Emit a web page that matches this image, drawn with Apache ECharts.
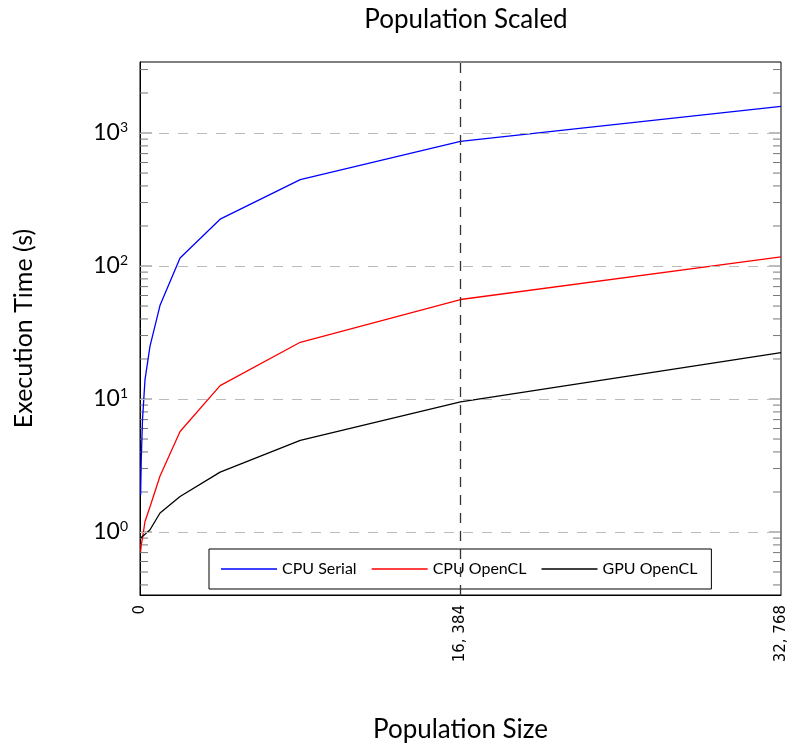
<!DOCTYPE html>
<html>
<head>
<meta charset="utf-8">
<script src="https://cdn.jsdelivr.net/npm/echarts@6/dist/echarts.min.js"></script>
<style>
html,body{margin:0;padding:0;background:#fff;}
#chart{width:791px;height:749px;}
</style>
</head>
<body>
<div id="chart"></div>
<script>
// Data
const populations = [32, 64, 128, 256, 512, 1024, 2048, 4096, 8192, 16384, 32768];
const cpuSerial   = [1.9, 3.5, 7, 14, 25, 50.6, 115, 225, 446, 865, 1585];
const cpuOpenCL   = [0.71, 0.8, 0.9, 1.2, 1.55, 2.64, 5.7, 12.6, 26.7, 56, 117];
const gpuOpenCL   = [0.9, 0.9, 0.92, 0.96, 1.04, 1.39, 1.85, 2.82, 4.89, 9.5, 22.3];
const seriesNames = ['CPU Serial', 'CPU OpenCL', 'GPU OpenCL'];
const xTicks = [0, 16384, 32768];
const xTickLabels = ['0', '16, 384', '32, 768'];
const yMajorTicks = [1, 10, 100, 1000];
const yMinorTicks = [0.4,0.5,0.6,0.7,0.8,0.9, 2,3,4,5,6,7,8,9, 20,30,40,50,60,70,80,90, 200,300,400,500,600,700,800,900, 2000,3000];
const markedX = 16384;

const X_MIN = 0, X_MAX = 32768, Y_MIN = 0.336, Y_MAX = 3420;
const FONT = 'Lato';

function pairs(ys){ return populations.map((x,i)=>[x, ys[i]]); }

function tickRenderer(len, color){
  return function(params, api){
    const v = api.value(1);
    const l = api.coord([X_MIN, v]);
    const r = api.coord([X_MAX, v]);
    return {type:'group', children:[
      {type:'line', shape:{x1:l[0], y1:l[1], x2:l[0]+len, y2:l[1]}, style:{stroke:color, lineWidth:1}},
      {type:'line', shape:{x1:r[0]-len, y1:r[1], x2:r[0], y2:r[1]}, style:{stroke:color, lineWidth:1}}
    ]};
  };
}

const chart = echarts.init(document.getElementById('chart'), null, {renderer:'canvas'});
const option = {
  backgroundColor:'#fff',
  animation:false,
  title:{
    text:'Population Scaled', left:461, top:2, textAlign:'center',
    textStyle:{fontFamily:FONT, fontSize:26, fontWeight:'normal', color:'#000'}
  },
  legend:{
    data:seriesNames,
    left:209, top:549,
    orient:'horizontal',
    icon:'rect', itemWidth:56, itemHeight:1.5, itemGap:15,
    borderColor:'#000', borderWidth:1, borderRadius:0,
    padding:[12,14,12,12],
    backgroundColor:'#fff',
    textStyle:{fontFamily:FONT, fontSize:16, color:'#000'}
  },
  grid:{left:140, right:10, top:62, bottom:154, show:true, borderColor:'#000', borderWidth:1, backgroundColor:'transparent'},
  xAxis:{
    type:'value', min:X_MIN, max:X_MAX, interval:16384,
    name:'Population Size', nameLocation:'middle', nameGap:122,
    nameTextStyle:{fontFamily:FONT, fontSize:26, color:'#000'},
    axisLine:{show:true, lineStyle:{color:'#000'}},
    axisTick:{show:false},
    splitLine:{show:false},
    axisLabel:{
      rotate:90, margin:10, fontFamily:'DejaVu Sans', fontSize:15, color:'#000',
      formatter:function(v){ const i = xTicks.indexOf(v); return i>=0 ? xTickLabels[i] : ''; }
    }
  },
  yAxis:{
    type:'log', logBase:10, min:Y_MIN, max:Y_MAX,
    name:'Execution Time (s)', nameLocation:'middle', nameGap:104,
    nameTextStyle:{fontFamily:FONT, fontSize:25, color:'#000'},
    axisLine:{show:true, lineStyle:{color:'#000'}},
    axisTick:{show:false},
    splitLine:{show:false},
    axisLabel:{
      show:true, margin:12, color:'#000', showMinLabel:true, showMaxLabel:true,
      formatter:function(v){
        const e = Math.log10(v);
        if (Math.abs(e - Math.round(e)) > 1e-3) return '';
        return '{b|10}{s|' + Math.round(e) + '}';
      },
      rich:{
        b:{fontFamily:FONT, fontSize:23, color:'#000'},
        s:{fontFamily:FONT, fontSize:14, color:'#000', padding:[0,0,12,0]}
      }
    }
  },
  series:[
    {
      name:seriesNames[0], type:'line', data:pairs(cpuSerial), showSymbol:false, symbol:'none',
      lineStyle:{color:'#0000ff', width:1.3}, itemStyle:{color:'#0000ff'}, z:3
    },
    {
      name:seriesNames[1], type:'line', data:pairs(cpuOpenCL), showSymbol:false, symbol:'none',
      lineStyle:{color:'#ff0000', width:1.3}, itemStyle:{color:'#ff0000'}, z:3
    },
    {
      name:seriesNames[2], type:'line', data:pairs(gpuOpenCL), showSymbol:false, symbol:'none',
      lineStyle:{color:'#000000', width:1.3}, itemStyle:{color:'#000000'}, z:3
    },
    {
      type:'custom', data:yMinorTicks.map(v=>[X_MIN, v]), renderItem:tickRenderer(8, '#777'),
      silent:true, z:2, clip:false
    },
    {
      type:'custom', data:yMajorTicks.map(v=>[X_MIN, v]), renderItem:tickRenderer(12, '#777'),
      silent:true, z:2, clip:false
    },
    {
      type:'line', data:[], silent:true, z:1,
      markLine:{
        silent:true, symbol:'none', animation:false, label:{show:false},
        lineStyle:{color:'#bbb', type:[10,9], width:1.2},
        data:yMajorTicks.map(v=>({yAxis:v}))
      }
    },
    {
      type:'line', data:[], silent:true, z:20, zlevel:1,
      markLine:{
        silent:true, symbol:'none', animation:false, label:{show:false},
        lineStyle:{color:'#333', type:[10,8], width:1.3},
        data:[{xAxis:markedX}]
      }
    }
  ]
};
chart.setOption(option);
</script>
</body>
</html>
